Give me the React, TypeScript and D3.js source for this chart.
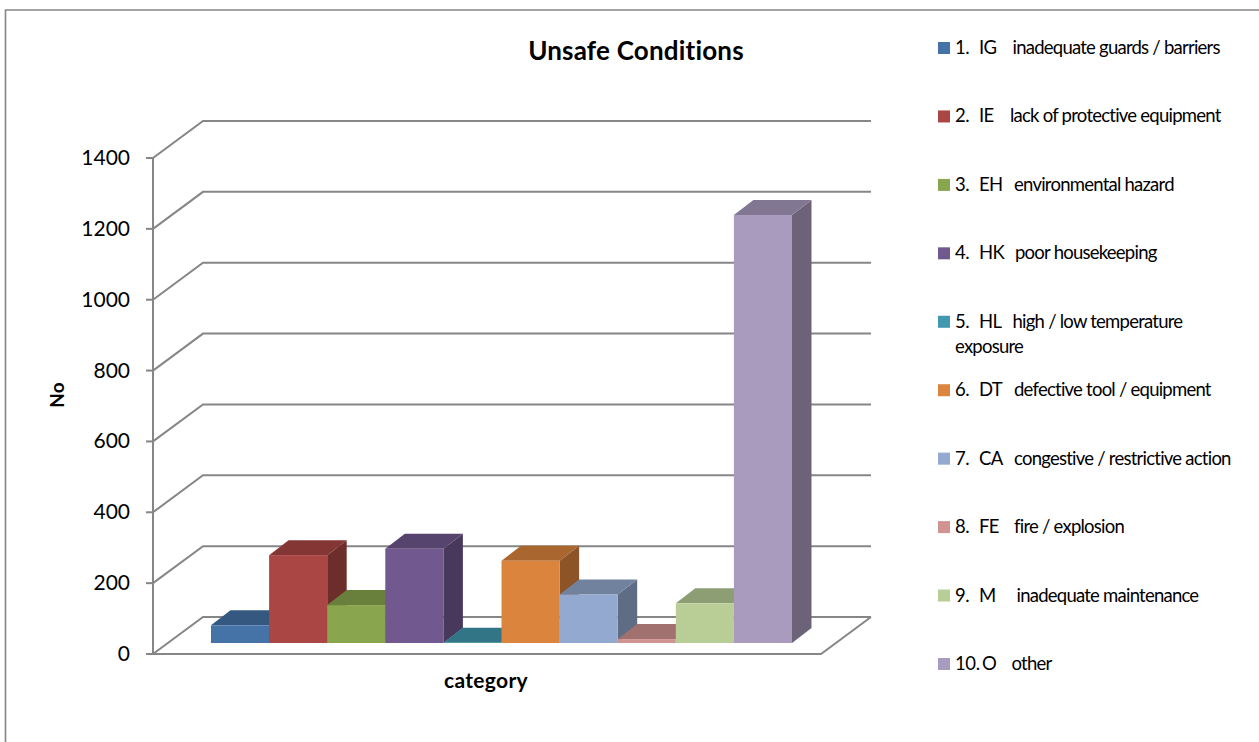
import * as d3 from "d3";

const legendNumbers = ["1.", "2.", "3.", "4.", "5.", "6.", "7.", "8.", "9.", "10."];
const codes = ["IG", "IE", "EH", "HK", "HL", "DT", "CA", "FE", "M", "O"];
const descriptions = [
  "inadequate guards / barriers",
  "lack of protective equipment",
  "environmental hazard",
  "poor housekeeping",
  "high / low temperature",
  "defective tool / equipment",
  "congestive / restrictive action",
  "fire / explosion",
  "inadequate maintenance",
  "other"
];
const values = [50, 248, 107, 266, 1, 232, 137, 11, 112, 1208];
const colors = [
  "#4572A7", "#AA4643", "#89A54E", "#71588F", "#4198AF",
  "#DB843D", "#93A9CF", "#D19392", "#B9CD96", "#A99BBD"
];

// description start in the legend, the original aligned these with spaces
const descX = [1012.5, 1010, 1014, 1015, 1012.5, 1014, 1014, 1014, 1016.5, 1011.5];

const font = "Lato, sans-serif";
const lineColor = "#868686";

const width = 1259;
const height = 742;

// wall depth and bar depth of the fake 3d
const wallDx = 50;
const wallDy = -37;
const barDx = 19.5;
const barDy = -15;

function shade(color: string, k: number) {
  const c = d3.rgb(color);
  return d3.rgb(c.r * k, c.g * k, c.b * k).formatHex();
}

export default function App() {
  const y = d3.scaleLinear().domain([0, 1400]).range([654, 158]);
  const x = d3
    .scaleBand<string>()
    .domain(codes)
    .range([168, 835])
    .paddingInner(0)
    .paddingOuter(0.74);
  const ticks = y.ticks(7);
  const baseShift = -11; // bars stand a little way back on the floor
  const legendY = d3.scalePoint<string>().domain(codes).range([48, 664]);

  return (
    <svg
      width={width}
      height={height}
      viewBox={`0 0 ${width} ${height}`}
      style={{ position: "absolute", left: 0, top: 0, display: "block", background: "#fff" }}
    >
      <path d={`M5.5 ${height + 2}V10H${width + 2}`} fill="none" stroke={lineColor} strokeWidth="1.6" />

      {/* walls */}
      {ticks.map((t) => (
        <path
          key={t}
          d={`M${x.range()[0] - 15} ${y(t)}l${wallDx} ${wallDy}H871`}
          fill="none"
          stroke={lineColor}
          strokeWidth="2"
        />
      ))}
      <path d={`M153 ${y(0)}H821L871 ${y(0) + wallDy}`} fill="none" stroke={lineColor} strokeWidth="2" />
      <line x1="153" x2="153" y1={y(1400)} y2={y(0) + 1} stroke={lineColor} strokeWidth="2" />
      {ticks.map((t) => (
        <g key={t}>
          <line x1="146" x2="153" y1={y(t)} y2={y(t)} stroke={lineColor} strokeWidth="2" />
          <text x="130" y={y(t)} dy="7" textAnchor="end" fontFamily={font} fontSize="21" fill="#000">
            {t}
          </text>
        </g>
      ))}

      {/* bars, left to right so the next one hides the lower part of the side */}
      {codes.map((code, i) => {
        const x0 = x(code)!;
        const w = x.bandwidth();
        const top = y(values[i]) + baseShift;
        const bottom = y(0) + baseShift;
        return (
          <g key={code}>
            <path
              d={`M${x0 + w} ${top}l${barDx} ${barDy}V${bottom + barDy}l${-barDx} ${-barDy}Z`}
              fill={shade(colors[i], 0.64)}
            />
            <path
              d={`M${x0} ${top}l${barDx} ${barDy}h${w}l${-barDx} ${-barDy}Z`}
              fill={shade(colors[i], 0.77)}
            />
            <rect x={x0} y={top} width={w} height={bottom - top} fill={colors[i]} />
          </g>
        );
      })}

      <text x="636" y="60" textAnchor="middle" fontFamily={font} fontSize="26" fontWeight="700" letterSpacing="0.2" fill="#000">
        Unsafe Conditions
      </text>
      <text x="486" y="688" textAnchor="middle" fontFamily={font} fontSize="21" fontWeight="700" letterSpacing="0.3" fill="#000">
        category
      </text>
      <text
        transform="translate(64,395) rotate(-90)"
        textAnchor="middle"
        fontFamily={font}
        fontSize="19"
        fontWeight="700"
        fill="#000"
      >
        No
      </text>

      {/* legend */}
      {codes.map((code, i) => {
        const ly = legendY(code)!;
        return (
          <g key={code} fontFamily={font} fontSize="18.5" fill="#000">
            <rect x="938" y={ly - 6} width="12" height="12" fill={colors[i]} />
            <text x="955" y={ly + 6} letterSpacing="-0.4">{legendNumbers[i]}</text>
            <text x={code === "O" ? 982 : 979} y={ly + 6} letterSpacing="-0.6">{code}</text>
            <text x={descX[i]} y={ly + 6} letterSpacing="-0.76">{descriptions[i]}</text>
            {code === "HL" && (
              <text x="955" y={ly + 31} letterSpacing="-0.76">exposure</text>
            )}
          </g>
        );
      })}
    </svg>
  );
}
